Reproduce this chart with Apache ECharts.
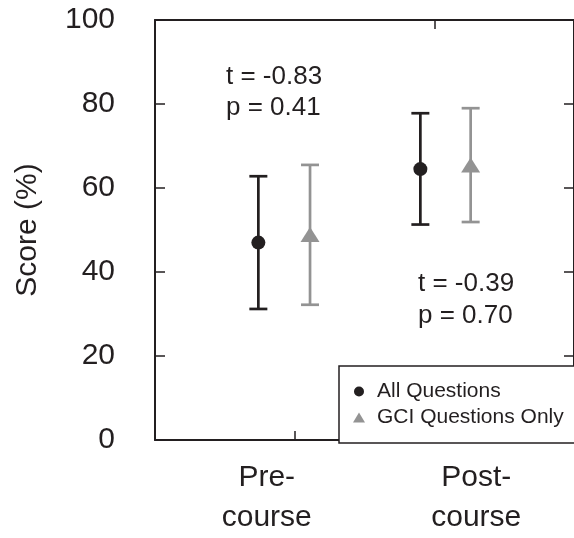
<!DOCTYPE html>
<html>
<head>
<meta charset="utf-8">
<script src="https://cdn.jsdelivr.net/npm/echarts@6/dist/echarts.min.js"></script>
<style>
html, body { margin: 0; padding: 0; background: #fff; }
#main { width: 574px; height: 538px; }
</style>
</head>
<body>
<div id="main"></div>
<script>
// groups along the x axis (value axis 0..3)
var categories = ['Pre-\ncourse', 'Post-\ncourse'];
var labelX = [0.8, 2.3];

// All Questions: mean and error bar ends
var allX = [0.74, 1.90];
var allMean = [47.0, 64.5];
var allLow = [31.2, 51.3];
var allHigh = [62.8, 77.8];

// GCI Questions Only
var gciX = [1.11, 2.26];
var gciMean = [48.9, 65.5];
var gciLow = [32.2, 51.9];
var gciHigh = [65.5, 79.0];

var ink = '#231f20';
var grey = '#939393';
var font = '"Liberation Sans", Arial, sans-serif';

function errData(xs, lo, hi) {
    var out = [];
    for (var i = 0; i < xs.length; i++) out.push([xs[i], lo[i], hi[i]]);
    return out;
}
function ptData(xs, m) {
    var out = [];
    for (var i = 0; i < xs.length; i++) out.push([xs[i], m[i]]);
    return out;
}
function errBar(color) {
    return function (params, api) {
        var top = api.coord([api.value(0), api.value(2)]);
        var bot = api.coord([api.value(0), api.value(1)]);
        var hw = 9;
        var st = { stroke: color, lineWidth: 2.7 };
        return {
            type: 'group',
            children: [
                { type: 'line', shape: { x1: top[0], y1: top[1], x2: bot[0], y2: bot[1] }, style: st },
                { type: 'line', shape: { x1: top[0] - hw, y1: top[1], x2: top[0] + hw, y2: top[1] }, style: st },
                { type: 'line', shape: { x1: bot[0] - hw, y1: bot[1], x2: bot[0] + hw, y2: bot[1] }, style: st }
            ]
        };
    };
}

var chart = echarts.init(document.getElementById('main'));
var axisLine = { show: true, onZero: false, lineStyle: { color: ink, width: 2 } };

var option = {
    animation: false,
    textStyle: { fontFamily: font },
    grid: { left: 155, right: -3, top: 20, bottom: 95 },
    xAxis: [{
        type: 'value', position: 'bottom', min: 0, max: 3,
        axisLine: axisLine,
        axisTick: { show: true, inside: true, length: 9, customValues: [1], lineStyle: { color: ink, width: 1.5 } },
        splitLine: { show: false },
        axisLabel: {
            customValues: labelX, margin: 18, fontSize: 30, lineHeight: 40, color: ink, fontFamily: font,
            formatter: function (v) {
                for (var i = 0; i < labelX.length; i++) if (Math.abs(labelX[i] - v) < 1e-6) return categories[i];
                return '';
            }
        }
    }, {
        type: 'value', position: 'top', min: 0, max: 3,
        axisLine: axisLine,
        axisTick: { show: true, inside: true, length: 9, customValues: [2], lineStyle: { color: ink, width: 1.5 } },
        splitLine: { show: false },
        axisLabel: { show: false }
    }],
    yAxis: [{
        type: 'value', position: 'left', min: 0, max: 100, interval: 20,
        name: 'Score (%)', nameLocation: 'middle', nameGap: 112,
        nameTextStyle: { fontSize: 30, color: ink, fontFamily: font },
        axisLine: axisLine,
        axisTick: { show: true, inside: true, length: 10, lineStyle: { color: ink, width: 1.5 } },
        splitLine: { show: false },
        axisLabel: { fontSize: 30, margin: 40, color: ink, fontFamily: font }
    }, {
        type: 'value', position: 'right', min: 0, max: 100, interval: 20,
        axisLine: axisLine,
        axisTick: { show: true, inside: true, length: 10, lineStyle: { color: ink, width: 1.5 } },
        splitLine: { show: false },
        axisLabel: { show: false }
    }],
    legend: {
        orient: 'vertical', left: 339, top: 366,
        padding: [15, 300, 15, 14],
        itemWidth: 12, itemHeight: 10, itemGap: 5,
        borderColor: ink, borderWidth: 1.5, backgroundColor: '#fff',
        textStyle: { fontSize: 21, color: ink, fontFamily: font, padding: [0, 0, 0, 7] },
        data: [
            { name: 'All Questions', icon: 'circle', itemStyle: { color: ink } },
            { name: 'GCI Questions Only', icon: 'triangle', itemStyle: { color: grey } }
        ]
    },
    graphic: [
        { type: 'text', left: 226, top: 61, style: { text: 't = -0.83\np = 0.41', font: '26px ' + font, lineHeight: 31, fill: ink } },
        { type: 'text', left: 418, top: 268, style: { text: 't = -0.39\np = 0.70', font: '26px ' + font, lineHeight: 32, fill: ink } }
    ],
    series: [{
        name: 'All Questions', type: 'custom', xAxisIndex: 0, yAxisIndex: 0,
        itemStyle: { color: ink },
        renderItem: errBar(ink), encode: { x: 0, y: [1, 2] },
        data: errData(allX, allLow, allHigh), z: 2
    }, {
        name: 'GCI Questions Only', type: 'custom', xAxisIndex: 0, yAxisIndex: 0,
        itemStyle: { color: grey },
        renderItem: errBar(grey), encode: { x: 0, y: [1, 2] },
        data: errData(gciX, gciLow, gciHigh), z: 2
    }, {
        name: 'All Questions', type: 'scatter', symbol: 'circle', symbolSize: 14,
        itemStyle: { color: ink, opacity: 1 },
        data: ptData(allX, allMean), z: 3
    }, {
        name: 'GCI Questions Only', type: 'scatter', symbol: 'triangle', symbolSize: [19, 15],
        itemStyle: { color: grey, opacity: 1 },
        data: ptData(gciX, gciMean), z: 3
    }]
};
chart.setOption(option);
</script>
</body>
</html>
